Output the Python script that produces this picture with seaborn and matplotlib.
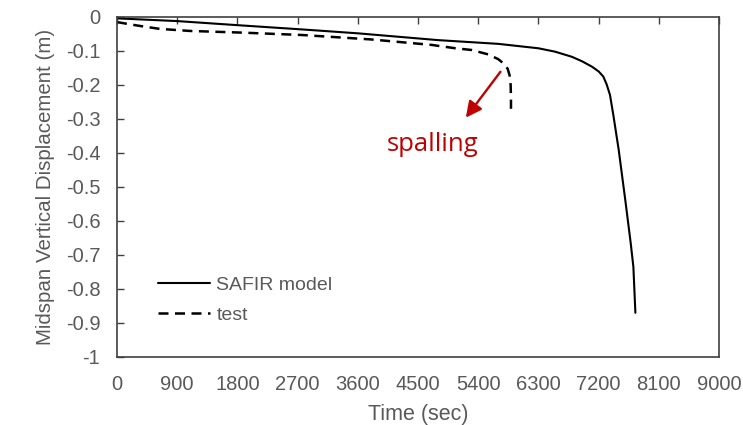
import seaborn as sns
import pandas as pd
import numpy as np
import matplotlib
matplotlib.use("Agg")
import matplotlib.pyplot as plt

# SAFIR model (solid line)
safir_time = [0, 900, 1800, 2800, 3600, 4200, 4800, 5700, 6300, 6550, 6800,
              6950, 7100, 7200, 7270, 7320, 7370, 7420, 7500, 7600, 7680,
              7720, 7750]
safir_disp = [-0.004, -0.012, -0.024, -0.037, -0.048, -0.058, -0.068, -0.079,
              -0.092, -0.102, -0.117, -0.13, -0.146, -0.16, -0.175, -0.198,
              -0.229, -0.288, -0.39, -0.54, -0.665, -0.735, -0.87]

# test (dashed line)
test_time = [0, 300, 640, 1090, 1880, 2770, 3800, 4700, 5060, 5300, 5550,
             5700, 5780, 5840, 5870, 5885, 5890, 5890]
test_disp = [-0.015, -0.025, -0.035, -0.041, -0.046, -0.053, -0.066, -0.082,
             -0.092, -0.097, -0.11, -0.124, -0.137, -0.152, -0.172, -0.2,
             -0.24, -0.27]

x_ticks = [0, 900, 1800, 2700, 3600, 4500, 5400, 6300, 7200, 8100, 9000]
y_ticks = [0, -0.1, -0.2, -0.3, -0.4, -0.5, -0.6, -0.7, -0.8, -0.9, -1]
y_ticklabels = ["0", "-0.1", "-0.2", "-0.3", "-0.4", "-0.5", "-0.6", "-0.7",
                "-0.8", "-0.9", "-1"]

sns.set_style("white")
plt.rcParams['font.family'] = ['Liberation Sans', 'DejaVu Sans']

df_safir = pd.DataFrame({"time": safir_time, "disp": safir_disp})
df_test = pd.DataFrame({"time": test_time, "disp": test_disp})

fig = plt.figure(figsize=(7.43, 4.25), dpi=100)
ax = fig.add_axes([117 / 743, 1 - 357 / 425, (719 - 117) / 743, (357 - 17) / 425])

sns.lineplot(data=df_safir, x="time", y="disp", ax=ax, color="black",
             linewidth=1.5, sort=False, estimator=None, label="SAFIR model")
sns.lineplot(data=df_test, x="time", y="disp", ax=ax, color="black",
             linewidth=1.8, sort=False, estimator=None, label="test",
             dashes=False, linestyle=(0, (4, 2.6)))

ax.set_xlim(0, 9000)
ax.set_ylim(-1, 0)
ax.set_xticks(x_ticks)
ax.set_xticklabels([str(t) for t in x_ticks])
ax.set_yticks(y_ticks)
ax.set_yticklabels(y_ticklabels)

grey = "#595959"
ax.tick_params(axis="x", top=True, bottom=False, direction="in", length=5,
               width=1, color="#404040", labelsize=14.5, labelcolor=grey, pad=13)
ax.tick_params(axis="y", left=True, direction="in", length=5, width=1,
               color="#404040", labelsize=14.5, labelcolor=grey, pad=12)
for s in ax.spines.values():
    s.set_visible(True)
    s.set_color("#404040")
    s.set_linewidth(1.2)

ax.set_xlabel("Time (sec)", fontsize=15.5, color=grey, labelpad=7)
ax.set_ylabel("Midspan Vertical Displacement (m)", fontsize=14.8, color=grey,
              labelpad=8)

# spalling annotation
red = "#C00000"
ax.annotate("", xy=(5215, -0.296), xytext=(5733, -0.161),
            arrowprops=dict(arrowstyle="-|>", color=red, lw=1.7,
                            mutation_scale=24, shrinkA=0, shrinkB=0))
ax.text(4724, -0.376, "spalling", color=red, fontsize=18.5,
        family=["Open Sans", "DejaVu Sans"], ha="center", va="center")

leg = ax.legend(loc="upper left", bbox_to_anchor=(0.068, 0.237), frameon=False,
                fontsize=14, handlelength=2.7, handletextpad=0.3,
                labelspacing=0.65, borderpad=0, borderaxespad=0)
for t in leg.get_texts():
    t.set_color(grey)

fig.savefig("out.png", dpi=100)
